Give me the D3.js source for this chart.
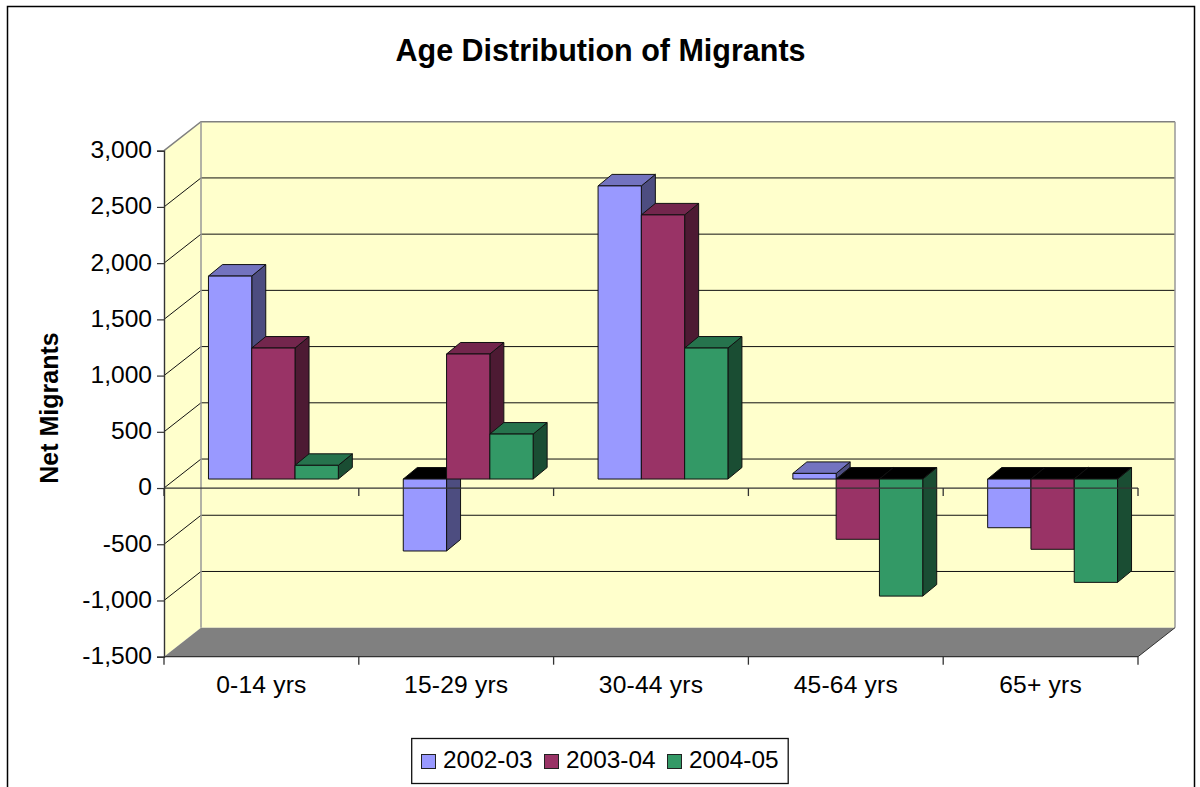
<!DOCTYPE html>
<html><head><meta charset="utf-8">
<script src="https://cdn.jsdelivr.net/npm/d3@7"></script>
<style>
html,body{margin:0;padding:0;background:#fff;overflow:hidden}
svg{display:block}
text{font-family:"Liberation Sans",Arial,sans-serif;fill:#000}
</style></head><body>
<svg id="c" width="1200" height="787"></svg>
<script>
const categories = ["0-14 yrs","15-29 yrs","30-44 yrs","45-64 yrs","65+ yrs"];
const seriesNames = ["2002-03","2003-04","2004-05"];
const values2002 = [1805,-640,2607,50,-433];
const values2003 = [1165,1112,2349,-536,-625];
const values2004 = [122,400,1165,-1041,-919];
const yTicks = [3000,2500,2000,1500,1000,500,0,-500,-1000,-1500];
const faceColors = ["#9999FF","#993366","#339966"];
const sideColors = ["#4D4D80","#4D1A33","#1A4D33"];
const topColors = ["#7373BF","#73264D","#26734D"];

const svg = d3.select("#c");
const y = d3.scaleLinear().domain([3000,-1500]).range([150.7,656.7]);
const x = d3.scaleBand().domain(categories).range([164,1138]);
const wallDx = 37, wallDy = -29;
const barShiftX = 12, barShiftY = -9, barDx = 14, barDy = -11.5;
const allSeries = [values2002,values2003,values2004];
const inner = d3.scaleBand().domain(d3.range(3)).range([0,x.bandwidth()]).paddingInner(0).paddingOuter(0.75);
const pts = a => a.map(p=>p.join(",")).join(" ");
const hyphenFormat = v => d3.format(",")(v).replace("\u2212","-");

// frame
svg.append("rect").attr("x",7.5).attr("y",6.5).attr("width",1187).attr("height",800)
  .attr("fill","#fff").attr("stroke","#000").attr("stroke-width",1.5);

// title
svg.append("text").attr("x",600.5).attr("y",61).attr("text-anchor","middle")
  .attr("font-size",30.5).attr("font-weight","bold").text("Age Distribution of Migrants");

// walls
const [x0,x1] = x.range();
const yTop = y(3000), yBot = y(-1500);
svg.append("polygon").attr("points",pts([[x0+wallDx,yTop+wallDy],[x1+wallDx,yTop+wallDy],[x1+wallDx,yBot+wallDy],[x0+wallDx,yBot+wallDy]]))
  .attr("fill","#FFFFCC");
svg.append("polygon").attr("points",pts([[x0,yTop],[x0+wallDx,yTop+wallDy],[x0+wallDx,yBot+wallDy],[x0,yBot]]))
  .attr("fill","#FFFFCC");
svg.append("polygon").attr("points",pts([[x0,yBot],[x0+wallDx,yBot+wallDy],[x1+wallDx,yBot+wallDy],[x1,yBot]]))
  .attr("fill","#808080");

// gridlines
const grid = svg.append("g").attr("fill","none");
yTicks.filter(v=>v>-1500).forEach(v=>{
  const c = v===3000 ? "#808080" : "#111";
  grid.append("polyline").attr("points",pts([[x0,y(v)],[x0+wallDx,y(v)+wallDy],[x1+wallDx,y(v)+wallDy]]))
    .attr("stroke",c).attr("stroke-width",v===3000?1.5:1);
});
svg.append("line").attr("x1",x0+wallDx).attr("x2",x0+wallDx).attr("y1",yTop+wallDy).attr("y2",yBot+wallDy).attr("stroke","#999").attr("stroke-width",1.5);
svg.append("line").attr("x1",x1+wallDx).attr("x2",x1+wallDx).attr("y1",yTop+wallDy).attr("y2",yBot+wallDy).attr("stroke","#999").attr("stroke-width",1.5);
svg.append("line").attr("x1",x1).attr("x2",x1+wallDx).attr("y1",yBot).attr("y2",yBot+wallDy).attr("stroke","#333");

// bars
const bars = svg.append("g").attr("stroke","#111").attr("stroke-width",1).attr("stroke-linejoin","round");
categories.forEach((cat,ci)=>{
  allSeries.forEach((vals,si)=>{
    const v = vals[ci];
    const bx = x(cat)+inner(si)+barShiftX, w = inner.bandwidth();
    const base = y(0)+barShiftY, end = y(v)+barShiftY;
    const top = Math.min(base,end), bot = Math.max(base,end);
    bars.append("polygon").attr("points",pts([[bx+w,top],[bx+w+barDx,top+barDy],[bx+w+barDx,bot+barDy],[bx+w,bot]])).attr("fill",sideColors[si]);
    bars.append("polygon").attr("points",pts([[bx,top],[bx+barDx,top+barDy],[bx+w+barDx,top+barDy],[bx+w,top]])).attr("fill",v<0?"#000":topColors[si]);
    bars.append("rect").attr("x",bx).attr("y",top).attr("width",w).attr("height",bot-top).attr("fill",faceColors[si]);
  });
});

// y axis
const yAxis = svg.append("g").attr("transform",`translate(${x0},0)`)
  .call(d3.axisLeft(y).tickValues(yTicks).tickFormat(hyphenFormat).tickSize(7).tickPadding(5));
yAxis.selectAll("path").attr("stroke","#333").attr("stroke-width",1.4);
yAxis.selectAll(".tick line").attr("stroke","#333").attr("stroke-width",1.2);
yAxis.selectAll("text").attr("font-size",24.6).attr("dy","0.28em").style("font-family",'"Liberation Sans",Arial,sans-serif');

// x axis: baseline at zero and at the floor, ticks on category boundaries
const edges = categories.map(c=>x(c)).concat([x1]);
[y(0),yBot].forEach(yy=>{
  const g = svg.append("g").attr("stroke","#333").attr("stroke-width",1.3);
  g.append("line").attr("x1",x0).attr("x2",x1).attr("y1",yy).attr("y2",yy);
  edges.forEach(e=>g.append("line").attr("x1",e).attr("x2",e).attr("y1",yy).attr("y2",yy+8));
});
const xAxis = svg.append("g").attr("transform",`translate(0,${yBot})`)
  .call(d3.axisBottom(x).tickSize(0).tickPadding(19));
xAxis.select("path").remove();
xAxis.selectAll("text").attr("font-size",24.6).attr("letter-spacing",0.2).style("font-family",'"Liberation Sans",Arial,sans-serif');

// y title
svg.append("text").attr("transform","translate(58,408) rotate(-90)").attr("text-anchor","middle")
  .attr("font-size",25).attr("font-weight","bold").text("Net Migrants");

// legend
const legend = svg.append("g");
legend.append("rect").attr("x",411.7).attr("y",738.5).attr("width",376.5).attr("height",45)
  .attr("fill","#fff").attr("stroke","#111").attr("stroke-width",1.3);
const legendX = d3.scalePoint().domain(seriesNames).range([421.5,667.5]);
seriesNames.forEach((s,i)=>{
  legend.append("rect").attr("x",legendX(s)).attr("y",754.5).attr("width",14).attr("height",14)
    .attr("fill",faceColors[i]).attr("stroke","#222");
  legend.append("text").attr("x",legendX(s)+21.5).attr("y",768).attr("font-size",24.4).text(s);
});
</script>
</body></html>
